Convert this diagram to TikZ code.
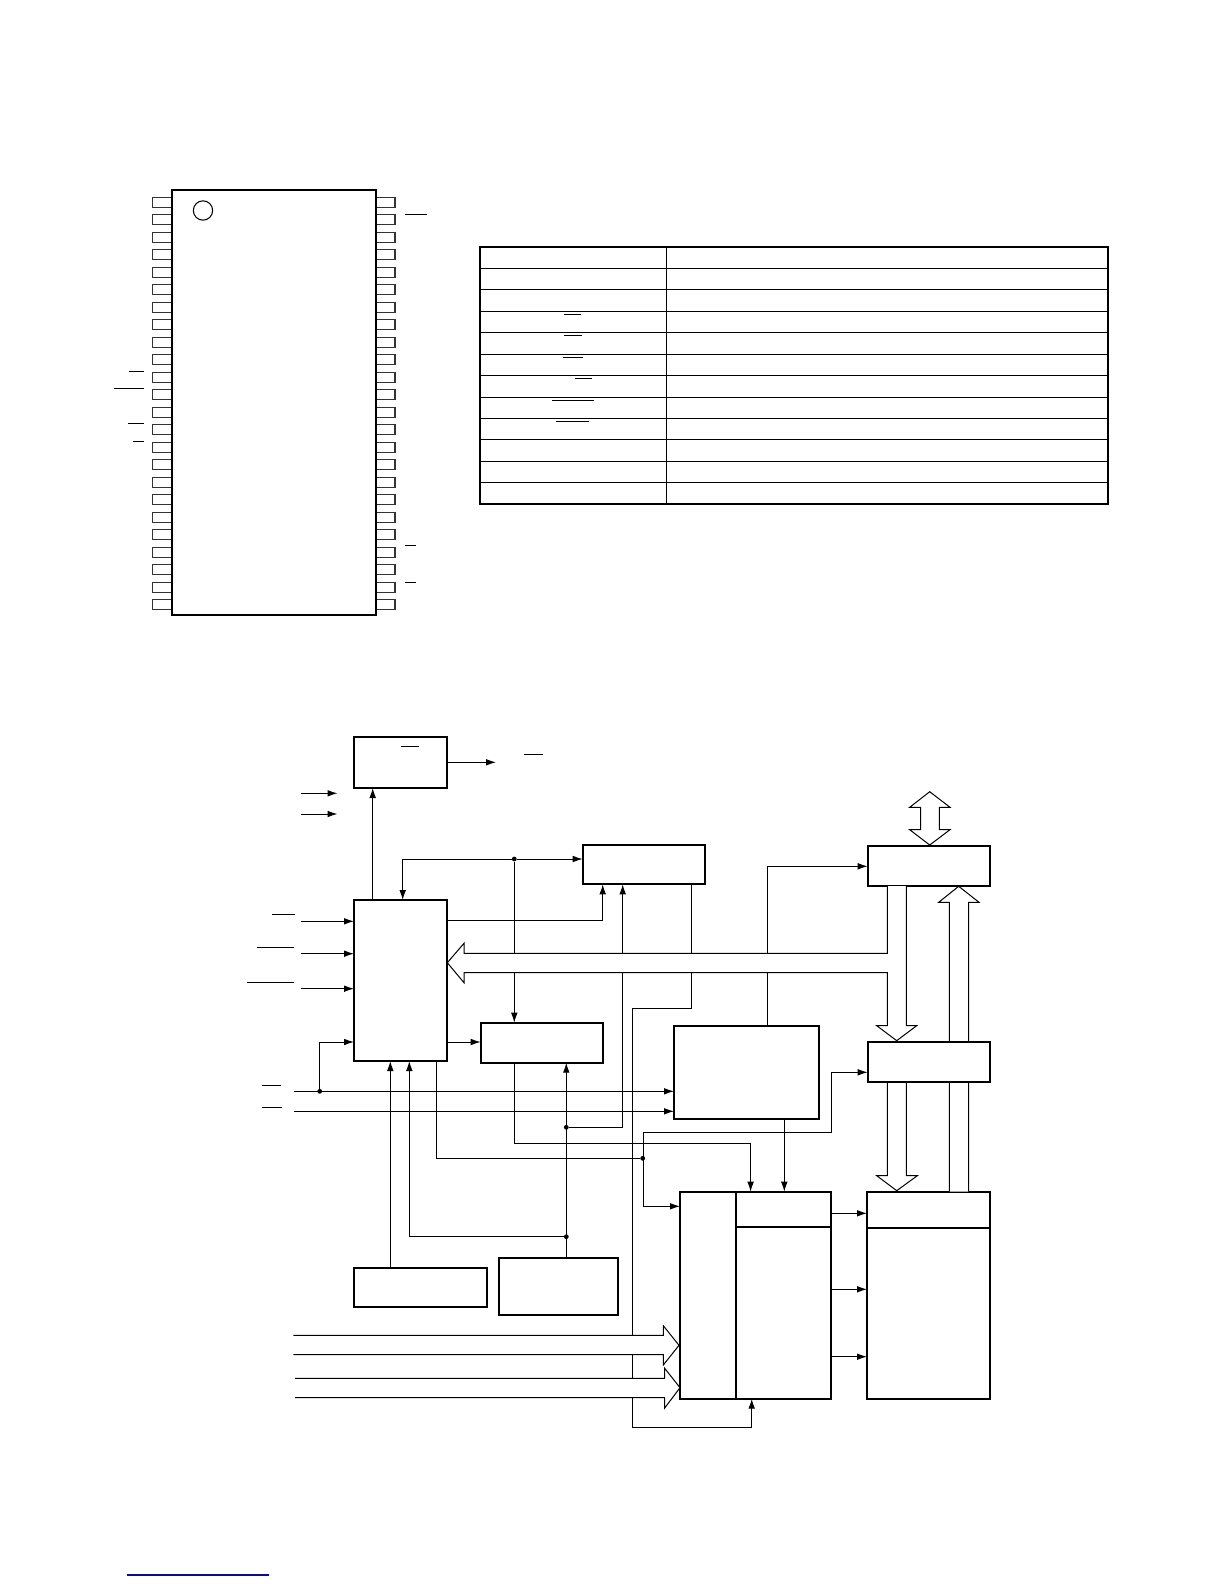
\documentclass[tikz,border=0pt]{standalone}
\usetikzlibrary{arrows.meta}
\tikzset{
  x=0.75pt,y=-0.75pt,
  blk/.style={draw=black,fill=white,line width=1.45pt,inner sep=0pt,outer sep=0pt,anchor=north west},
  wire/.style={draw=black,line width=0.75pt},
  arr/.style={wire,-{Latex[length=7.5pt,width=5pt]}},
  junct/.style={circle,fill=black,inner sep=0pt,minimum size=3.6pt},
  ovl/.style={draw=black,line width=0.75pt},
  busfill/.style={fill=white,draw=none},
  busline/.style={draw=black,line width=0.75pt,line join=miter},
  pinbox/.style={draw=black!80,line width=0.8pt,fill=white},
  tthin/.style={draw=black,line width=0.8pt},
  tthick/.style={draw=black,line width=1.7pt}
}
\newcommand{\blkbox}[5]{\node[blk,minimum width={(#4-#2)*0.75pt},minimum height={(#5-#3)*0.75pt}] (#1) at (#2,#3) {};}
\newcommand{\busarrow}[1]{\fill[busfill] #1; \draw[busline] #1;}
\begin{document}
\begin{tikzpicture}
\useasboundingbox (0,0) rectangle (1224,1584);
\fill[white] (0,0) rectangle (1224,1584);

% ---- package outline
\foreach \i in {0,...,23}{
  \pgfmathsetmacro{\py}{197.3+\i*17.5}
  \draw[pinbox] (171.8,\py) -- (152.8,\py) -- (152.8,\py+10) -- (171.8,\py+10);
  \draw[pinbox] (376,\py) -- (395,\py) -- (395,\py+10) -- (376,\py+10);
}
\blkbox{chip}{171.8}{190}{376}{615}
\node[draw=black,line width=0.8pt,circle,minimum size=14.5pt,inner sep=0pt] (mark) at (203,210.5) {};
\foreach \xa/\xb/\yy in {129/144/371.3,114/144/388.3,128/144/423.3,133/144/441.3,405/427/214,405/416/545.3,405/416/582.3}
  \draw[ovl] (\xa,\yy) -- (\xb,\yy);

% ---- table
\foreach \yy in {268.3,289.7,311.3,332.3,354.3,375.3,397.3,418.3,439.3,461.3,482.3}
  \draw[tthin] (479.7,\yy) -- (1108.3,\yy);
\draw[tthin,line width=1pt] (666.7,246.7) -- (666.7,503.7);
\draw[tthick] (479.7,246.7) rectangle (1108.3,503.7);
\foreach \xa/\xb/\yy in {564/581/314.3,564/582/335.3,563/583/357.3,575/592/378.3,552/594/400.3,556/589/421.3}
  \draw[ovl] (\xa,\yy) -- (\xb,\yy);

% ---- block boxes first, so that names exist
\blkbox{A}{354}{736.7}{447.3}{788}
\blkbox{B}{354}{900}{447.3}{1061}
\blkbox{C}{582.7}{845}{705.3}{884.3}
\blkbox{D}{480.7}{1022.7}{603.3}{1062.7}
\blkbox{E}{867.7}{846}{990.3}{886}
\blkbox{G}{674}{1025.7}{819}{1119}
\blkbox{H}{354}{1267.7}{487.3}{1307.3}
\blkbox{I}{499}{1258}{618.3}{1315}
\blkbox{J}{680}{1191.7}{831}{1398.7}
\blkbox{K}{867}{1191.7}{990}{1398.7}

% ---- free ends and junctions
\coordinate (aout) at (496,762.3);
\coordinate (ain1) at (301,793.3);  \coordinate (ain1e) at (337.5,793.3);
\coordinate (ain2) at (301,814);    \coordinate (ain2e) at (337.5,814);
\coordinate (b1) at (301,921.3);
\coordinate (b2) at (301,953.7);
\coordinate (b3) at (301,988.7);
\coordinate (s1) at (294,1091.3);
\coordinate (s2) at (294,1111.3);
\coordinate (cornerT) at (402.7,859);
\coordinate (busjoin) at (622.7,1127.3);
\coordinate (c632t) at (691.3,1008.3);
\coordinate (c632b) at (632.3,1008.3);
\coordinate (c632l) at (632.3,1427);
\coordinate (c751) at (751.7,1427);
\node[junct] (j1) at (514.3,859) {};
\node[junct] (j2) at (319.7,1091.3) {};
\node[junct] (j3) at (566.3,1127.3) {};
\node[junct] (j4) at (566.3,1236.7) {};
\node[junct] (j5) at (642.7,1158.3) {};

% ---- connectors
\draw[arr] (A.east |- aout) -- (aout);
\draw[arr] (ain1) -- (ain1e);
\draw[arr] (ain2) -- (ain2e);
\draw[arr] (372.7,0 |- B.north) -- (372.7,0 |- A.south);
\draw[arr] (cornerT -| j1) -- (cornerT) -- (402.7,0 |- B.north);
\draw[arr] (j1) -- (j1 -| C.west);
\draw[arr] (j1) -- (j1 |- D.north);
\draw[arr] (B.east |- 0,920.3) -- (602.7,920.3) -- (602.7,0 |- C.south);
\draw[arr] (622.7,0 |- busjoin) -- (622.7,0 |- C.south);
\draw[wire] (j3) -- (busjoin);
\draw[arr] (B.east |- 0,1042) -- (D.west |- 0,1042);
\draw[arr] (b1) -- (b1 -| B.west);
\draw[arr] (b2) -- (b2 -| B.west);
\draw[arr] (b3) -- (b3 -| B.west);
\draw[arr] (s1) -- (s1 -| G.west);
\draw[arr] (s2) -- (s2 -| G.west);
\draw[arr] (j2) -- (319.7,1042) -- (B.west |- 0,1042);
\draw[arr] (390.3,0 |- H.north) -- (390.3,0 |- B.south);
\draw[arr] (j4) -- (409.3,1236.7) -- (409.3,0 |- B.south);
\draw[arr] (566.3,0 |- I.north) -- (566.3,0 |- D.south);
\draw[wire] (436.3,0 |- B.south) -- (436.3,1158.3) -- (j5);
\draw[arr] (514.3,0 |- D.south) -- (514.3,1143.3) -- (750.6,1143.3) -- (750.6,0 |- J.north);
\draw[arr] (643,1206.3) -- (J.west |- 0,1206.3);
\draw[wire] (643,1206.3) -- (643,1132.7) -- (831.3,1132.7);
\draw[arr] (831.3,1132.7) -- (831.3,1072.3) -- (867.7,1072.3);
\draw[wire] (691.3,0 |- C.south) -- (c632t) -- (c632b) -- (c632l) -- (c751);
\draw[arr] (c751) -- (c751 |- J.south);
\draw[arr] (767.3,0 |- G.north) -- (767.3,866.3) -- (E.west |- 0,866.3);
\draw[arr] (784.3,0 |- G.south) -- (784.3,0 |- J.north);
\draw[arr] (J.east |- 0,1213.3) -- (K.west |- 0,1213.3);
\draw[arr] (J.east |- 0,1289.3) -- (K.west |- 0,1289.3);
\draw[arr] (J.east |- 0,1356.7) -- (K.west |- 0,1356.7);

% ---- J and K inner rules
\draw[blk] (736.3,0 |- J.north) -- (736.3,0 |- J.south);
\draw[blk] (736.3,1226.7) -- (J.east |- 0,1226.7);
\draw[blk] (K.west |- 0,1227.7) -- (K.east |- 0,1227.7);

% ---- wide buses
\busarrow{(887.3,886) -- (887.3,953.3) -- (464,953.3) -- (464,943.3) -- (447.3,962.7) -- (464,982.7) -- (464,972.5) -- (887.3,972.5) -- (887.3,1025.7) -- (876.7,1025.7) -- (896.7,1040.7) -- (916.7,1025.7) -- (906.3,1025.7) -- (906.3,886)}
\busarrow{(949.3,1191.7) -- (949.3,902.3) -- (938.7,902.3) -- (958.7,886.3) -- (979,902.3) -- (968.7,902.3) -- (968.7,1191.7)}
\busarrow{(887.3,1082) -- (887.3,1175.7) -- (876.7,1175.7) -- (896.7,1190.7) -- (917.3,1175.7) -- (906.3,1175.7) -- (906.3,1082)}
\busarrow{(929.7,791.7) -- (950,807.3) -- (939.3,807.3) -- (939.3,829.7) -- (950,829.7) -- (929.7,845) -- (909.7,829.7) -- (920.7,829.7) -- (920.7,807.3) -- (909.7,807.3) -- cycle}
\busarrow{(293.3,1335.3) -- (663.3,1335.3) -- (663.3,1325.7) -- (679,1345.3) -- (663.3,1365) -- (663.3,1354.7) -- (293.3,1354.7)}
\busarrow{(295,1378.3) -- (664.7,1378.3) -- (664.7,1368.3) -- (680,1387.7) -- (664.7,1408) -- (664.7,1397.7) -- (295,1397.7)}

% ---- box F on top of the shafts
\blkbox{F}{867.7}{1041.7}{990.3}{1082}
\foreach \xa/\xb/\yy in {272/295/914,257/293.7/947.3,247/293.7/982.3,262/281/1085.3,262/282/1107.3,524/542.7/754,401/419/746.3}
  \draw[ovl] (\xa,\yy) -- (\xb,\yy);

% ---- page rule
\draw[draw={rgb,255:red,10;green,10;blue,150},line width=0.9pt] (127,1575) -- (269,1575);
\end{tikzpicture}
\end{document}
